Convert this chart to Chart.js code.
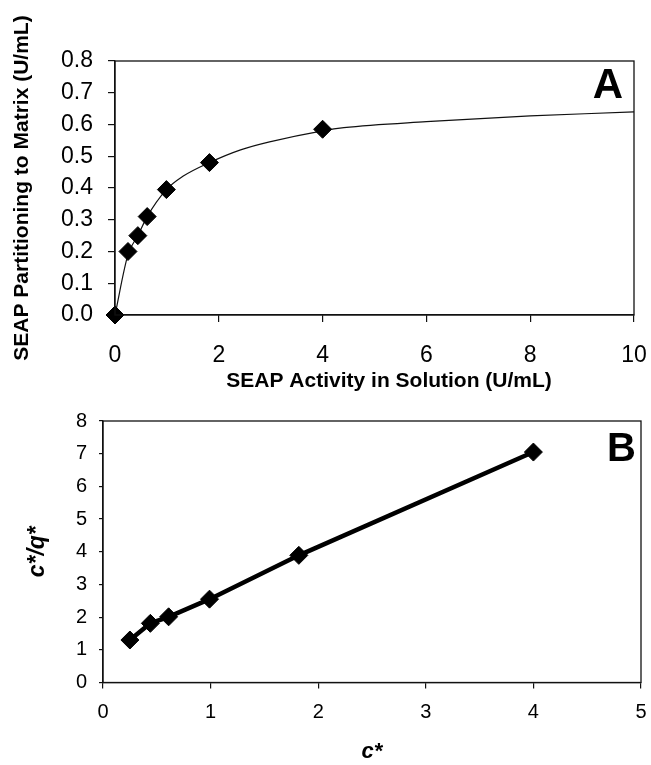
<!DOCTYPE html>
<html>
<head>
<meta charset="utf-8">
<script src="https://cdn.jsdelivr.net/npm/chart.js@4/dist/chart.umd.min.js"></script>
<style>
  html, body { margin: 0; padding: 0; background: #fff; }
  #wrap { position: relative; width: 651px; height: 765px; overflow: hidden; }
  canvas { position: absolute; left: 0; }
  #cA { top: 0; }
  #cB { top: 395px; }
</style>
</head>
<body>
<div id="wrap">
  <canvas id="cA" width="651" height="395"></canvas>
  <canvas id="cB" width="651" height="370"></canvas>
</div>
<script>
// ---- Panel A data ----
const aObsX = [0, 0.25, 0.44, 0.62, 0.99, 1.82, 4.0];
const aObsY = [0, 0.20, 0.25, 0.31, 0.395, 0.48, 0.585];
const aFitX = [0, 0.25, 0.44, 0.62, 0.99, 1.3, 1.82, 2.42, 3.0, 4.0, 4.41, 6.0, 8.0, 10.0, 10.24];
const aFitY = [0, 0.19, 0.25, 0.31, 0.395, 0.436, 0.48, 0.52, 0.546, 0.58, 0.59, 0.609, 0.627, 0.64, 0.642];
const aXTicks = ['0', '2', '4', '6', '8', '10'];
const aYTicks = ['0.0', '0.1', '0.2', '0.3', '0.4', '0.5', '0.6', '0.7', '0.8'];
const aXTitle = 'SEAP Activity in Solution (U/mL)';
const aYTitle = 'SEAP Partitioning to Matrix (U/mL)';
const aPanel = 'A';

// ---- Panel B data ----
const bX = [0.25, 0.44, 0.61, 0.99, 1.82, 4.0];
const bY = [1.30, 1.81, 2.01, 2.55, 3.89, 7.05];
const bXTicks = ['0', '1', '2', '3', '4', '5'];
const bYTicks = ['0', '1', '2', '3', '4', '5', '6', '7', '8'];
const bXTitle = 'c*';
const bYTitle = 'c*/q*';
const bPanel = 'B';

const FONT = '"Liberation Sans", Arial, Helvetica, sans-serif';

function framePlugin(letter, size, dx, dy) {
  return {
    id: 'frame' + letter,
    afterDraw(chart) {
      const a = chart.chartArea, ctx = chart.ctx;
      ctx.save();
      ctx.strokeStyle = '#111';
      ctx.lineWidth = 1.3;
      ctx.strokeRect(a.left, a.top, a.right - a.left, a.bottom - a.top);
      ctx.fillStyle = '#000';
      ctx.font = 'bold ' + size + 'px ' + FONT;
      ctx.textAlign = 'right';
      ctx.textBaseline = 'middle';
      ctx.fillText(letter, a.right - dx, a.top + dy);
      ctx.restore();
    }
  };
}

function toPts(xs, ys) { return xs.map((x, i) => ({ x: x, y: ys[i] })); }

// ---- Chart A ----
new Chart(document.getElementById('cA'), {
  type: 'scatter',
  data: {
    datasets: [
      {
        data: toPts(aObsX, aObsY),
        showLine: false,
        pointStyle: 'rectRot',
        pointRadius: 9,
        pointBorderWidth: 1,
        pointBackgroundColor: '#000',
        pointBorderColor: '#000',
        clip: false
      },
      {
        data: toPts(aFitX, aFitY),
        showLine: true,
        pointRadius: 0,
        borderColor: '#111',
        borderWidth: 1.2,
        cubicInterpolationMode: 'monotone',
        clip: false
      }
    ]
  },
  options: {
    responsive: false,
    animation: false,
    devicePixelRatio: 1,
    layout: { padding: { top: 61, right: 17, left: 0, bottom: 0 } },
    plugins: { legend: { display: false }, tooltip: { enabled: false } },
    scales: {
      x: {
        type: 'linear', min: 0, max: 10,
        afterFit: s => { s.height = 80; },
        ticks: {
          stepSize: 2, color: '#000', padding: 2, autoSkip: false, maxRotation: 0,
          font: { family: FONT, size: 23, lineHeight: 2.78 },
          callback: (v, i) => aXTicks[i]
        },
        grid: { drawOnChartArea: false, drawTicks: true, tickLength: 7, color: '#111', lineWidth: 1.2 },
        border: { display: true, color: '#111', width: 1.3 },
        title: { display: true, text: '\u00a0\u00a0\u00a0\u00a0\u00a0' + aXTitle, color: '#000', padding: { top: 0, bottom: 1 },
                 font: { family: FONT, size: 21, weight: 'bold' } }
      },
      y: {
        type: 'linear', min: 0, max: 0.8,
        afterFit: s => { s.width = 115; },
        ticks: {
          stepSize: 0.1, color: '#000', padding: 15, autoSkip: false,
          font: { family: FONT, size: 23, lineHeight: 1 },
          callback: (v, i) => aYTicks[i]
        },
        grid: { drawOnChartArea: false, drawTicks: true, tickLength: 7, color: '#111', lineWidth: 1.2 },
        border: { display: true, color: '#111', width: 1.3 },
        title: { display: true, text: aYTitle, color: '#000', padding: { top: 10, bottom: 0 },
                 font: { family: FONT, size: 21, weight: 'bold' } }
      }
    }
  },
  plugins: [framePlugin(aPanel, 42, 11, 25)]
});

// ---- Chart B ----
new Chart(document.getElementById('cB'), {
  type: 'scatter',
  data: {
    datasets: [
      {
        data: toPts(bX, bY),
        showLine: true,
        borderColor: '#000',
        borderWidth: 4.5,
        pointStyle: 'rectRot',
        pointRadius: 9,
        pointBorderWidth: 1,
        pointBackgroundColor: '#000',
        pointBorderColor: '#000'
      }
    ]
  },
  options: {
    responsive: false,
    animation: false,
    devicePixelRatio: 1,
    layout: { padding: { top: 26, right: 9.5, left: 0, bottom: 0 } },
    plugins: { legend: { display: false }, tooltip: { enabled: false } },
    scales: {
      x: {
        type: 'linear', min: 0, max: 5,
        afterFit: s => { s.height = 82.5; },
        ticks: {
          stepSize: 1, color: '#000', padding: 2, autoSkip: false, maxRotation: 0,
          font: { family: FONT, size: 20, lineHeight: 2.22 },
          callback: (v, i) => bXTicks[i]
        },
        grid: { drawOnChartArea: false, drawTicks: true, tickLength: 6, color: '#111', lineWidth: 1.2 },
        border: { display: true, color: '#111', width: 1.3 },
        title: { display: true, text: bXTitle, color: '#000', padding: { top: 0, bottom: 0 },
                 font: { family: FONT, size: 22, weight: 'bold', style: 'italic' } }
      },
      y: {
        type: 'linear', min: 0, max: 8,
        afterFit: s => { s.width = 103; },
        ticks: {
          stepSize: 1, color: '#000', padding: 12, autoSkip: false,
          font: { family: FONT, size: 20, lineHeight: 1 },
          callback: (v, i) => bYTicks[i]
        },
        grid: { drawOnChartArea: false, drawTicks: true, tickLength: 4, color: '#111', lineWidth: 1.2 },
        border: { display: true, color: '#111', width: 1.3 },
        title: { display: true, text: bYTitle, color: '#000', padding: { top: 24, bottom: 0 },
                 font: { family: FONT, size: 23, weight: 'bold', style: 'italic' } }
      }
    }
  },
  plugins: [framePlugin(bPanel, 40, 5, 29)]
});
</script>
</body>
</html>
